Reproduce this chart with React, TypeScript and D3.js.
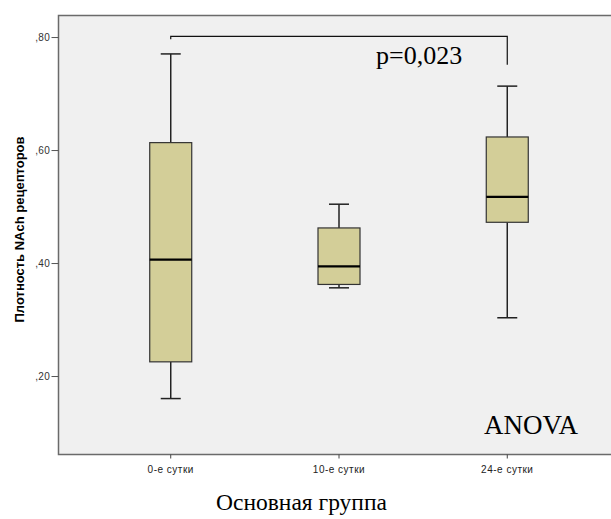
import React from "react";
import * as d3 from "d3";

// Groups along the category axis
const categories = ["0-е сутки", "10-е сутки", "24-е сутки"];
// Five-number summaries per group
const whiskerLow = [0.161, 0.357, 0.304];
const quartile1 = [0.226, 0.363, 0.473];
const medians = [0.407, 0.395, 0.518];
const quartile3 = [0.614, 0.463, 0.624];
const whiskerHigh = [0.771, 0.505, 0.714];

const yTicks = [0.2, 0.4, 0.6, 0.8];
const yTickLabels = [",20", ",40", ",60", ",80"];

// Significance bracket between first and last group
const bracketLevel = 0.802;
const bracketLeftEnd = 0.797;
const bracketRightEnd = 0.752;
const bracketFrom = 0;
const bracketTo = 2;
const pLabel = "p=0,023";
const testLabel = "ANOVA";

const W = 611;
const H = 519;
const left = 58.5;
const top = 15.5;
const bottom = 454.5;

export default function App() {
  const x = d3
    .scalePoint<string>()
    .domain(categories)
    .range([left, 619.5])
    .padding(0.667);
  const y = d3.scaleLinear().domain([0.062, 0.839]).range([bottom, top]);

  const boxW = 42;
  const capW = 20;
  const sans = "'Liberation Sans', Arial, sans-serif";
  const serif = "'Liberation Serif', 'Times New Roman', serif";

  return (
    <svg
      width={W}
      height={H}
      style={{ position: "absolute", left: 0, top: 0, background: "#fff" }}
    >
      <rect
        x={left}
        y={top}
        width={W - left + 10}
        height={bottom - top}
        fill="#f0f0f0"
        stroke="#6a6a6a"
        strokeWidth={1.5}
      />
      {/* y axis ticks */}
      {yTicks.map((t, i) => (
        <g key={t}>
          <line x1={51.5} x2={left} y1={y(t)} y2={y(t)} stroke="#555" strokeWidth={1} />
          <text
            x={50}
            y={y(t) + 3.5}
            textAnchor="end"
            fontFamily={sans}
            fontSize={10}
            letterSpacing={0.3}
            fill="#333"
          >
            {yTickLabels[i]}
          </text>
        </g>
      ))}
      {/* x axis ticks */}
      {categories.map((c) => (
        <g key={c}>
          <line x1={x(c)} x2={x(c)} y1={bottom} y2={bottom + 4} stroke="#444" strokeWidth={1} />
          <text
            x={x(c)}
            y={472.5}
            textAnchor="middle"
            fontFamily={sans}
            fontSize={10}
            letterSpacing={0.5}
            fill="#222"
          >
            {c}
          </text>
        </g>
      ))}
      {/* boxes */}
      {categories.map((c, i) => {
        const cx = x(c)!;
        return (
          <g key={c}>
            <line x1={cx} x2={cx} y1={y(whiskerHigh[i])} y2={y(quartile3[i])} stroke="#222" strokeWidth={1.5} />
            <line x1={cx} x2={cx} y1={y(quartile1[i])} y2={y(whiskerLow[i])} stroke="#222" strokeWidth={1.5} />
            <line x1={cx - capW / 2} x2={cx + capW / 2} y1={y(whiskerHigh[i])} y2={y(whiskerHigh[i])} stroke="#222" strokeWidth={1.5} />
            <line x1={cx - capW / 2} x2={cx + capW / 2} y1={y(whiskerLow[i])} y2={y(whiskerLow[i])} stroke="#222" strokeWidth={1.5} />
            <rect
              x={cx - boxW / 2}
              y={y(quartile3[i])}
              width={boxW}
              height={y(quartile1[i]) - y(quartile3[i])}
              fill="#d3ce98"
              stroke="#333"
              strokeWidth={1.2}
            />
            <line x1={cx - boxW / 2} x2={cx + boxW / 2} y1={y(medians[i])} y2={y(medians[i])} stroke="#000" strokeWidth={2.2} />
          </g>
        );
      })}
      {/* significance bracket */}
      <path
        d={`M${x(categories[bracketFrom])},${y(bracketLeftEnd)}V${y(bracketLevel)}H${x(categories[bracketTo])}V${y(bracketRightEnd)}`}
        fill="none"
        stroke="#111"
        strokeWidth={1.2}
      />
      <text x={376} y={64} fontFamily={serif} fontSize={26} fill="#000">
        {pLabel}
      </text>
      <text x={484} y={434} fontFamily={serif} fontSize={27} fill="#000">
        {testLabel}
      </text>
      {/* axis titles */}
      <text
        transform={`translate(24,229.5) rotate(-90)`}
        textAnchor="middle"
        fontFamily={sans}
        fontWeight="bold"
        fontSize={13}
        fill="#000"
      >
        Плотность NAch рецепторов
      </text>
      <text x={301.5} y={510} textAnchor="middle" fontFamily={serif} fontSize={23.5} fill="#000">
        Основная группа
      </text>
    </svg>
  );
}
